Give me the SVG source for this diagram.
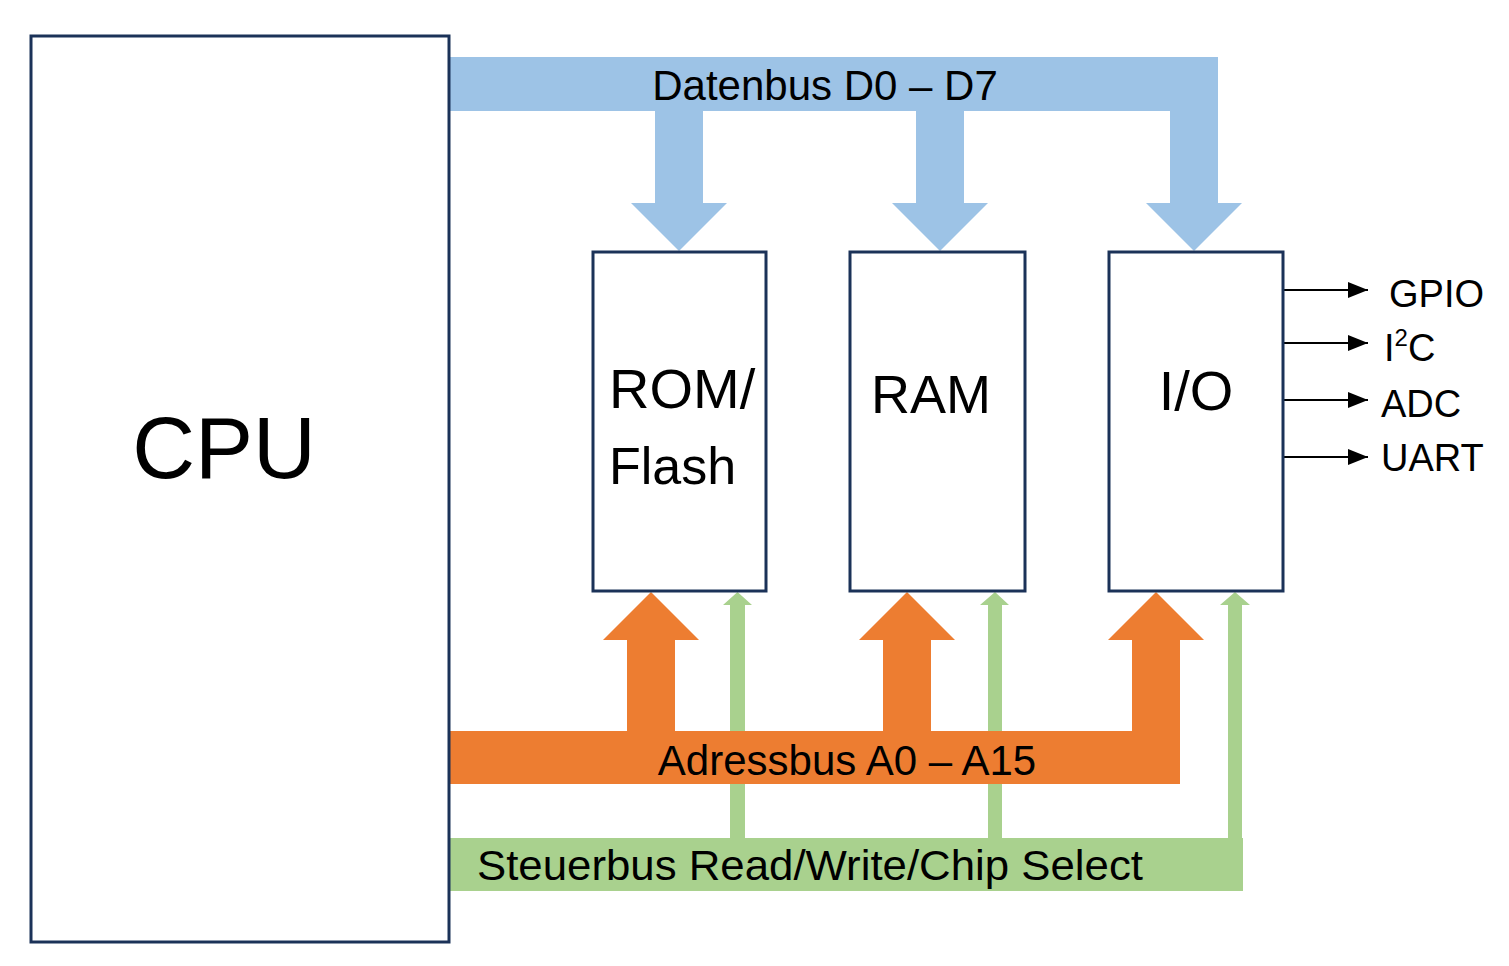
<svg xmlns="http://www.w3.org/2000/svg" width="1509" height="966" viewBox="0 0 1509 966">
<style>
.box{fill:#ffffff;stroke:#1b3258;stroke-width:3}
.t{font-family:"Liberation Sans",Arial,sans-serif;fill:#000000}
.data{fill:#9dc3e6}
.addr{fill:#ed7d31}
.ctrl{fill:#a9d18e}
.sig{stroke:#000000;stroke-width:2;fill:none}
</style>
<defs>
<marker id="ah" viewBox="0 0 20 16" refX="20" refY="8" markerWidth="20" markerHeight="16" markerUnits="userSpaceOnUse" orient="auto">
<path d="M0,0 L20,8 L0,16 Z" fill="#000000"/>
</marker>
</defs>
<rect width="1509" height="966" fill="#ffffff"/>
<g id="connectors">
<g id="datenbus">
<path class="data" d="M450,57 H1218 V203 H1242 L1194,251 L1146,203 H1170 V111 H964 V203 H988 L940,251 L892,203 H916 V111 H703 V203 H727 L679,251 L631,203 H655 V111 H450 Z"/>
<text class="t" x="825" y="100" font-size="42" text-anchor="middle">Datenbus D0 – D7</text>
</g>
<g id="steuerbus">
<path class="ctrl" d="M450,891 V838 H730 V605 H723 L737.5,592 L752,605 H745 V838 H988 V605 H980 L995,592 L1009,605 H1002 V838 H1228 V605 H1220 L1235,592 L1250,605 H1242 V838 H1243 V891 Z"/>
<text class="t" x="477" y="880" font-size="42" textLength="666" lengthAdjust="spacingAndGlyphs">Steuerbus Read/Write/Chip Select</text>
</g>
<g id="adressbus">
<path class="addr" d="M450,784 V731 H627 V640 H603 L651,592 L699,640 H675 V731 H883 V640 H859 L907,592 L955,640 H931 V731 H1132 V640 H1108 L1156,592 L1204,640 H1180 V784 Z"/>
<text class="t" x="847" y="775" font-size="42" text-anchor="middle">Adressbus A0 – A15</text>
</g>
<g id="io-signals">
<line class="sig" x1="1284" y1="290" x2="1368" y2="290" marker-end="url(#ah)"/>
<line class="sig" x1="1284" y1="343" x2="1368" y2="343" marker-end="url(#ah)"/>
<line class="sig" x1="1284" y1="400" x2="1368" y2="400" marker-end="url(#ah)"/>
<line class="sig" x1="1284" y1="457" x2="1368" y2="457" marker-end="url(#ah)"/>
</g>
</g>
<g id="cpu">
<rect class="box" x="31" y="36" width="418" height="906"/>
<text class="t" x="224" y="478" font-size="87" text-anchor="middle">CPU</text>
</g>
<g id="rom">
<rect class="box" x="593" y="252" width="173" height="339"/>
<text class="t" x="609" y="408" font-size="56">ROM/</text>
<text class="t" x="609" y="484" font-size="52">Flash</text>
</g>
<g id="ram">
<rect class="box" x="850" y="252" width="175" height="339"/>
<text class="t" x="931" y="413" font-size="54" text-anchor="middle">RAM</text>
</g>
<g id="io">
<rect class="box" x="1109" y="252" width="174" height="339"/>
<text class="t" x="1196" y="410" font-size="56" text-anchor="middle">I/O</text>
</g>
<g id="io-labels">
<text class="t" x="1389" y="307" font-size="38">GPIO</text>
<text class="t" x="1384" y="361" font-size="38">I<tspan font-size="24" dy="-15">2</tspan><tspan dy="15">C</tspan></text>
<text class="t" x="1381" y="417" font-size="38">ADC</text>
<text class="t" x="1381" y="471" font-size="38">UART</text>
</g>
</svg>
